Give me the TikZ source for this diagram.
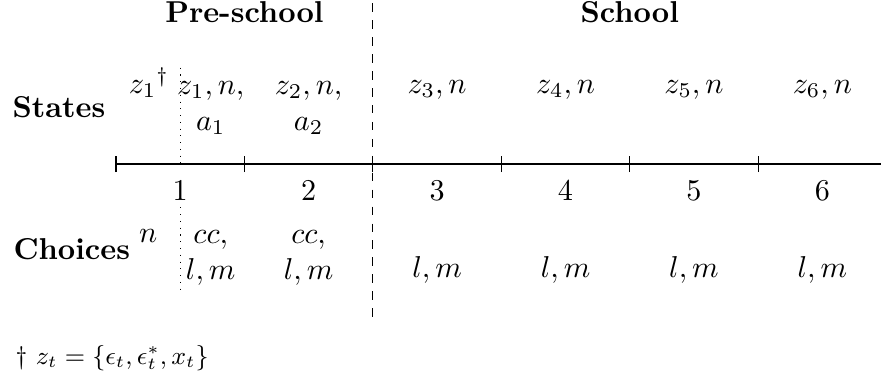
\documentclass[tikz,border=0pt]{standalone}
\usepackage{fix-cm}
\usepackage{amsmath, amssymb}
\usepackage{tikz}
\usetikzlibrary{positioning}

\begin{document}
\begin{tikzpicture}[cell/.style={align=center, inner sep=0pt}]
    \fontsize{10.7}{12.9}\selectfont
    \useasboundingbox (-1.445,-2.641) rectangle (9.53,2.043);
    % Trục thời gian
    \draw (0,0) -- (9.53,0);
    \foreach \i in {1,...,6} {
        \draw ({1.6*(\i-1)},-0.1) -- ({1.6*(\i-1)},0.1);
        \node[anchor=base] (t\i) at ({1.6*\i-0.8},-0.45) {$\i$};
    }
    
    % Tiêu đề
    \node[anchor=base, font=\bfseries] (pre) at (1.6,1.76) {Pre-school};
    \node[anchor=base, font=\bfseries] (sch) at (6.4,1.76) {School};
    \node[anchor=base west, inner sep=0pt, font=\bfseries] (states) at (-1.296,0.573) {States};
    \node[anchor=base west, inner sep=0pt, font=\bfseries] (choices) at (-1.283,-1.184) {Choices};
    
    % Đường phân cách
    \draw[dashed] (3.2,2) -- (3.2,-2);
    \draw[dotted] (0.8,1.2) -- (0.8,0);
    \draw[dotted] (0.8,-0.54) -- (0.8,-1.61);
    
    % Trạng thái
    \node[anchor=base] (s0) at (0.41,0.88) {${z_1}^\dagger$};
    \node[cell, anchor=north] (s1) at (1.18,1.04) {$z_1, n,$\\$a_1$};
    \node[cell, anchor=north] (s2) at (2.4,1.04) {$z_2, n,$\\$a_2$};
    \foreach \i in {3,...,6}
        \node[anchor=base] (s\i) at ({1.6*\i-0.8},0.88) {$z_\i, n$};
    
    % Lựa chọn
    \node[anchor=base] (c0) at (0.40,-0.984) {$n$};
    \node[cell, anchor=north] (c1) at (1.18,-0.82) {$cc,$\\$l, m$};
    \node[cell, anchor=north] (c2) at (2.4,-0.82) {$cc,$\\$l, m$};
    \foreach \i in {3,...,6}
        \node[anchor=base] (c\i) at ({1.6*\i-0.8},-1.42) {$l, m$};
    
    % Chú thích
    \node[anchor=base west, inner sep=0pt, font=\small] (note) at (-1.258,-2.504) {$\dagger$ $z_t = \{\epsilon_t, \epsilon_t^*, x_t\}$};
\end{tikzpicture}
\end{document}
